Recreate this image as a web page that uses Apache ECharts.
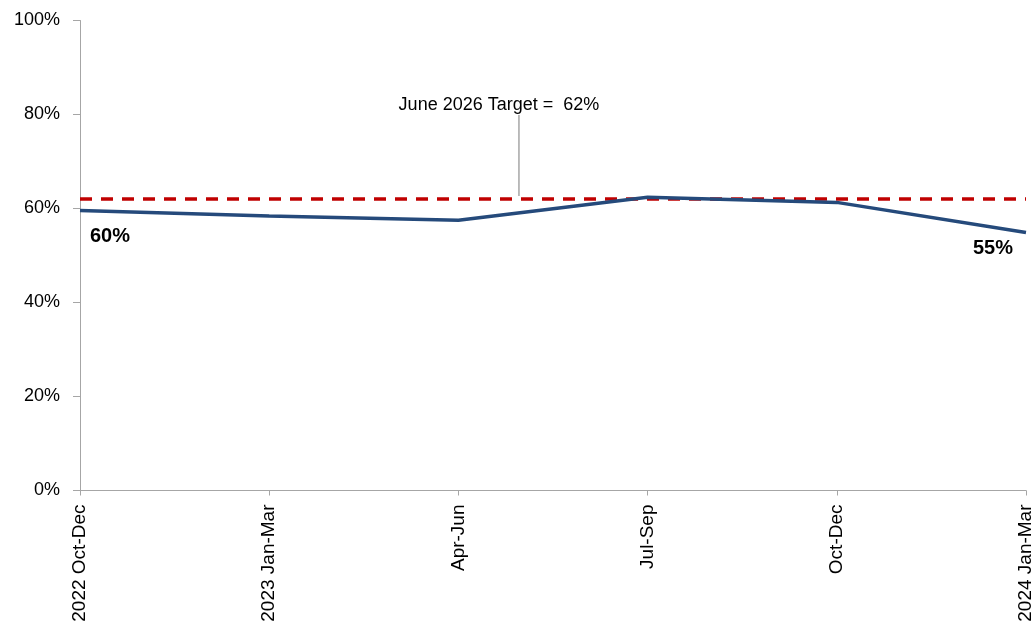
<!DOCTYPE html>
<html>
<head>
<meta charset="utf-8">
<script src="https://cdn.jsdelivr.net/npm/echarts@6/dist/echarts.min.js"></script>
<style>
  html, body { margin: 0; padding: 0; background: #fff; }
  #chart { width: 1034px; height: 622px; }
</style>
</head>
<body>
<div id="chart"></div>
<script>
// quarters on the x axis
const quarters = ['2022 Oct-Dec', '2023 Jan-Mar', 'Apr-Jun', 'Jul-Sep', 'Oct-Dec', '2024 Jan-Mar'];
// share (%) per quarter
const shareValues = [59.6, 58.4, 57.5, 62.4, 61.3, 54.9];
// June 2026 target
const targetValue = 62;
const targetValues = quarters.map(() => targetValue);
const yTicks = [0, 20, 40, 60, 80, 100];

const font = '"Liberation Sans", "Noto Sans", sans-serif';
const chart = echarts.init(document.getElementById('chart'));

const option = {
  animation: false,
  grid: { left: 80, right: 8, top: 20.5, bottom: 131.5, containLabel: false, outerBoundsMode: 'none' },
  xAxis: {
    type: 'category',
    data: quarters,
    boundaryGap: false,
    axisLine: { lineStyle: { color: '#a6a6a6', width: 1 } },
    axisTick: { show: true, length: 5, alignWithLabel: true, lineStyle: { color: '#a6a6a6' } },
    axisLabel: { rotate: 90, margin: 14, color: '#000', fontSize: 19, fontFamily: font, interval: 0 },
    splitLine: { show: false }
  },
  yAxis: {
    type: 'value',
    min: yTicks[0],
    max: yTicks[yTicks.length - 1],
    interval: 20,
    axisLine: { show: true, lineStyle: { color: '#a6a6a6', width: 1 } },
    axisTick: { show: true, length: 7, lineStyle: { color: '#a6a6a6' } },
    axisLabel: { margin: 20, color: '#000', fontSize: 18, fontFamily: font, formatter: v => v + '%' },
    splitLine: { show: false }
  },
  series: [
    {
      name: 'Target',
      type: 'line',
      data: targetValues,
      symbol: 'none',
      lineStyle: { color: '#c00000', width: 3.5, type: [12, 9] },
      z: 2
    },
    {
      name: 'Share',
      type: 'line',
      data: shareValues.map((v, i) => {
        const last = i === shareValues.length - 1;
        if (i === 0 || last) {
          return {
            value: v,
            label: {
              show: true,
              position: 'inside',
              offset: last ? [-33, 16] : [30, 26],
              formatter: p => Math.round(p.value) + '%',
              fontSize: 20,
              fontWeight: 'bold',
              color: '#000',
              fontFamily: font
            }
          };
        }
        return v;
      }),
      symbol: 'circle',
      symbolSize: 0,
      showSymbol: true,
      lineStyle: { color: '#254a7b', width: 3.5 },
      itemStyle: { color: '#254a7b' },
      z: 3
    }
  ]
};

chart.setOption(option);

// callout for the target line, placed between Apr-Jun and Jul-Sep
const a = chart.convertToPixel({ seriesIndex: 0 }, [2, targetValue]);
const b = chart.convertToPixel({ seriesIndex: 0 }, [3, targetValue]);
const calloutX = a[0] + (b[0] - a[0]) * 0.32;
const textY = chart.convertToPixel({ yAxisIndex: 0 }, 82);

chart.setOption({
  graphic: [
    {
      type: 'line',
      shape: { x1: calloutX, y1: textY + 10, x2: calloutX, y2: a[1] - 3 },
      style: { stroke: '#a6a6a6', lineWidth: 1.5 },
      z: 10
    },
    {
      type: 'text',
      x: calloutX - 20,
      y: textY,
      style: {
        text: 'June 2026 Target =  ' + targetValue + '%',
        fill: '#000',
        font: '18px ' + font,
        align: 'center',
        verticalAlign: 'middle'
      },
      z: 10
    }
  ]
});
</script>
</body>
</html>
